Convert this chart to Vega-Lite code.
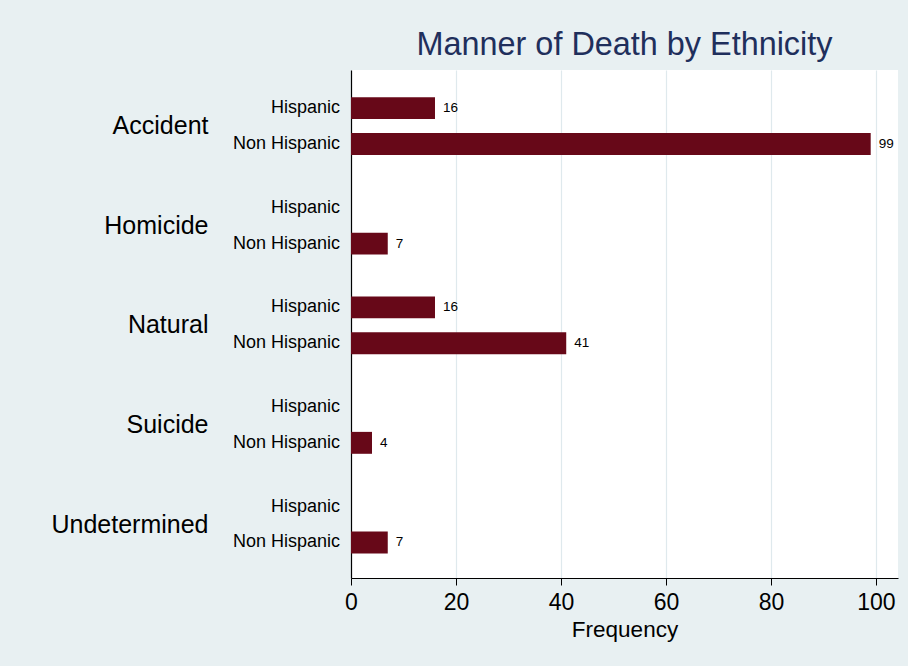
{
  "$schema": "https://vega.github.io/schema/vega-lite/v6.json",
  "autosize": {"type": "none"},
  "width": 547,
  "height": 508,
  "padding": {"left": 351, "top": 70, "right": 10, "bottom": 88},
  "background": "#e8f0f2",
  "config": {
    "font": "Liberation Sans",
    "view": {"fill": "white", "stroke": null}
  },
  "title": {
    "text": "Manner of Death by Ethnicity",
    "fontSize": 32.4,
    "fontWeight": "normal",
    "color": "#1f2f5c",
    "anchor": "middle",
    "offset": 9
  },
  "data": {
    "values": [
      {"manner": "Accident", "ethnicity": "Hispanic", "count": 16},
      {"manner": "Accident", "ethnicity": "Non Hispanic", "count": 99},
      {"manner": "Homicide", "ethnicity": "Hispanic", "count": 0},
      {"manner": "Homicide", "ethnicity": "Non Hispanic", "count": 7},
      {"manner": "Natural", "ethnicity": "Hispanic", "count": 16},
      {"manner": "Natural", "ethnicity": "Non Hispanic", "count": 41},
      {"manner": "Suicide", "ethnicity": "Hispanic", "count": 0},
      {"manner": "Suicide", "ethnicity": "Non Hispanic", "count": 4},
      {"manner": "Undetermined", "ethnicity": "Hispanic", "count": 0},
      {"manner": "Undetermined", "ethnicity": "Non Hispanic", "count": 7}
    ]
  },
  "encoding": {
    "y": {
      "field": "manner",
      "type": "nominal",
      "sort": ["Accident", "Homicide", "Natural", "Suicide", "Undetermined"],
      "scale": {"paddingInner": 0, "paddingOuter": 0.05, "align": 0.63},
      "axis": {
        "title": null,
        "ticks": false,
        "labelFontSize": 25,
        "labelColor": "#000000",
        "labelPadding": 143,
        "domainColor": "#000000",
        "domainWidth": 1.2,
        "grid": false
      }
    },
    "yOffset": {
      "field": "ethnicity",
      "type": "nominal",
      "sort": ["Hispanic", "Non Hispanic"],
      "scale": {"paddingInner": 0.389, "paddingOuter": 0.583}
    }
  },
  "layer": [
    {
      "mark": {"type": "bar", "color": "#670818"},
      "encoding": {
        "x": {
          "field": "count",
          "type": "quantitative",
          "scale": {"domain": [0, 104.2], "nice": false, "zero": true},
          "axis": {
            "title": "Frequency",
            "titleFontSize": 22.5,
            "titleFontWeight": "normal",
            "titleColor": "#000000",
            "titlePadding": 4,
            "values": [0, 20, 40, 60, 80, 100],
            "labelFontSize": 23,
            "labelColor": "#000000",
            "labelPadding": 6,
            "labelFlush": false,
            "tickSize": 7,
            "tickColor": "#000000",
            "domainColor": "#000000",
            "domainWidth": 1.2,
            "grid": true,
            "gridColor": "#dfe9ed",
            "gridWidth": 1.2
          }
        }
      }
    },
    {
      "transform": [{"filter": "datum.count > 0"}],
      "mark": {"type": "text", "align": "left", "baseline": "middle", "dx": 8, "fontSize": 13.5, "color": "#000000"},
      "encoding": {
        "x": {"field": "count", "type": "quantitative"},
        "text": {"field": "count", "type": "quantitative"}
      }
    },
    {
      "mark": {"type": "text", "align": "right", "baseline": "middle", "dx": -11, "fontSize": 18, "color": "#000000"},
      "encoding": {
        "x": {"datum": 0},
        "text": {"field": "ethnicity", "type": "nominal"}
      }
    }
  ]
}
